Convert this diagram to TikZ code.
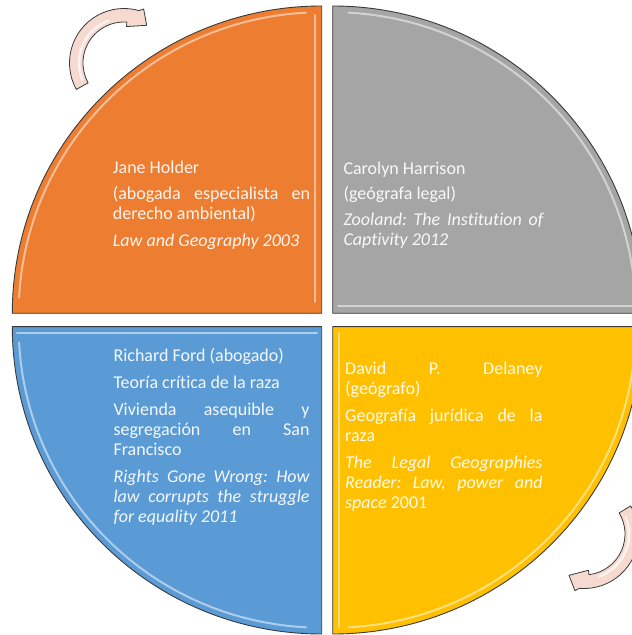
\documentclass[tikz,border=0pt]{standalone}
\usepackage{fontspec}
\setmainfont{Carlito}[Ligatures=NoCommon]
\definecolor{cOrange}{HTML}{ED7D31}
\definecolor{cGray}{HTML}{A5A5A5}
\definecolor{cBlue}{HTML}{5B9BD5}
\definecolor{cYellow}{HTML}{FFC000}
\definecolor{cEdge}{HTML}{3A3A3A}
\definecolor{cArrow}{HTML}{F6D9CF}
\frenchspacing
\begin{document}
\begin{tikzpicture}[x=1pt,y=1pt,
  quarter/.style={draw=cEdge, line width=0.9pt, line join=round},
  gloss/.style={draw=white, draw opacity=0.5, line width=2pt, line cap=round},
  cyclearrow/.style={draw=cEdge, line width=0.8pt, fill=cArrow, line join=round},
  textblk/.style={anchor=base west, inner sep=0pt, align=justify, text=white, text opacity=0.93,
    font=\fontsize{18}{20}\selectfont}]
\useasboundingbox (0,0) rectangle (632,635);
\clip (0,0) rectangle (632,635);
\def\qrx{309.4}\def\qry{307.3}
% quarter shapes
\draw[quarter, fill=cOrange] (321.7,321.7) -- (12.3,321.7)
  arc[start angle=180, end angle=90, x radius=\qrx, y radius=\qry] -- cycle;
\draw[quarter, fill=cGray] (332.7,321.7) -- (332.7,629)
  arc[start angle=90, end angle=0, x radius=\qrx, y radius=\qry] -- cycle;
\draw[quarter, fill=cBlue] (321.7,308.3) -- (12.3,308.3)
  arc[start angle=180, end angle=270, x radius=\qrx, y radius=\qry] -- cycle;
\draw[quarter, fill=cYellow] (332.7,308.3) -- (642.1,308.3)
  arc[start angle=0, end angle=-90, x radius=\qrx, y radius=\qry] -- cycle;
% gloss highlights
\draw[gloss, shift={(321.7,321.7)}] (177:303 and 301) arc[start angle=177, end angle=93, x radius=303, y radius=301];
\draw[gloss] (314.5,620) -- (314.5,333);
\draw[gloss, shift={(332.7,321.7)}] (87:303 and 301) arc[start angle=87, end angle=3, x radius=303, y radius=301];
\draw[gloss] (338,329) -- (640,329);
\draw[gloss] (17,302.3) -- (317,302.3);
\draw[gloss, shift={(321.7,308.3)}] (183:303 and 301) arc[start angle=183, end angle=267, x radius=303, y radius=301];
\draw[gloss] (339.3,302) -- (339.3,8);
\draw[gloss, shift={(332.7,308.3)}] (-3:303 and 301) arc[start angle=-3, end angle=-87, x radius=303, y radius=301];
% texts
\node[textblk, text width=197.3] (holder) at (112.7,461.7)
  {\hyphenpenalty=10000 \setlength{\parskip}{6.7pt}Jane Holder\par
   (abogada especialista en\linebreak derecho ambiental)\par
   \textit{Law and Geography 2003}};
\node[textblk, text width=200] (harrison) at (343.3,460.7)
  {\hyphenpenalty=10000 \setlength{\parskip}{5.5pt}Carolyn Harrison\par
   (geógrafa legal)\par
   \textit{Zooland: The Institution of\linebreak Captivity 2012}};
\node[textblk, text width=196] (ford) at (113.3,273.3)
  {\hyphenpenalty=10000 \setlength{\parskip}{6.8pt}Richard Ford (abogado)\par
   Teoría crítica de la raza\par
   Vivienda asequible y\linebreak segregación en San\linebreak Francisco\par
   \textit{Rights Gone Wrong: How\linebreak law corrupts the struggle\linebreak for equality 2011}};
\node[textblk, text width=197.3] (delaney) at (345,260)
  {\hyphenpenalty=10000 \setlength{\parskip}{6.7pt}David P. Delaney\linebreak (geógrafo)\par
   Geografía jurídica de la\linebreak raza\par
   \textit{The Legal Geographies\linebreak Reader: Law, power and\linebreak space} 2001};
% cycle arrows
\begin{scope}[shift={(124,572)}]
  \draw[cyclearrow] (209:54.5) arc[start angle=209, end angle=74, radius=54.5]
    -- (70:57.5) -- (59:44) -- (86:36.5) -- (86:41)
    arc[start angle=86, end angle=209, radius=41] -- cycle;
  \draw[gloss, draw opacity=0.7, line width=2.5pt] (202:45) arc[start angle=202, end angle=110, radius=45];
\end{scope}
\begin{scope}[shift={(584,101)}]
  \draw[cyclearrow] (31:54.5) arc[start angle=31, end angle=-95, radius=54.5]
    -- (-99:57.5) -- (-110:44) -- (-83:36.5) -- (-83:41)
    arc[start angle=-83, end angle=31, radius=41] -- cycle;
  \draw[gloss, draw opacity=0.7, line width=2.5pt] (22:45) arc[start angle=22, end angle=-70, radius=45];
\end{scope}
\end{tikzpicture}
\end{document}
